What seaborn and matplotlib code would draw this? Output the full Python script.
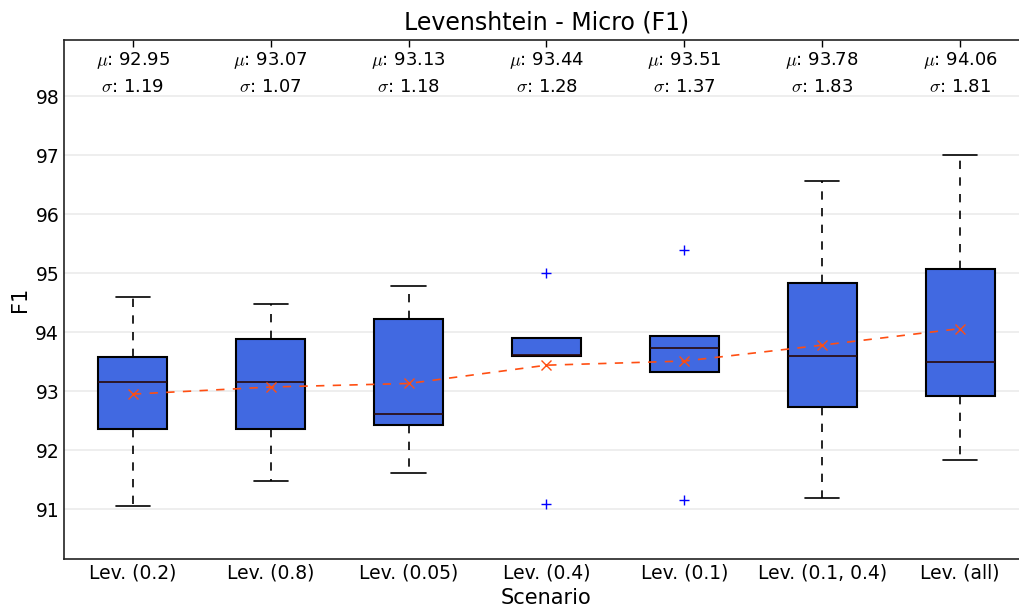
import matplotlib
matplotlib.use("Agg")
import matplotlib.pyplot as plt
import seaborn as sns
import pandas as pd

scenarios = ["Lev. (0.2)", "Lev. (0.8)", "Lev. (0.05)", "Lev. (0.4)",
             "Lev. (0.1)", "Lev. (0.1, 0.4)", "Lev. (all)"]
whisker_low = [91.06, 91.48, 91.62, 93.59, 93.33, 91.19, 91.84]
q1 = [92.36, 92.35, 92.42, 93.59, 93.33, 92.73, 92.91]
median = [93.16, 93.16, 92.62, 93.62, 93.73, 93.60, 93.50]
q3 = [93.58, 93.89, 94.23, 93.90, 93.94, 94.84, 95.07]
whisker_high = [94.60, 94.48, 94.78, 93.90, 93.94, 96.57, 97.01]
outliers = [[], [], [], [95.00, 91.09], [95.39, 91.16], [], []]
means = [92.95, 93.07, 93.13, 93.44, 93.51, 93.78, 94.06]
stds = [1.19, 1.07, 1.18, 1.28, 1.37, 1.83, 1.81]
yticks = [91, 92, 93, 94, 95, 96, 97, 98]

sns.set_style("white")
plt.rcParams["font.family"] = ["DejaVu Sans"]
plt.rcParams["mathtext.fontset"] = "cm"
plt.rcParams["text.color"] = "black"
plt.rcParams["axes.labelcolor"] = "black"

fig = plt.figure(figsize=(10.2, 6.08), dpi=100)
ax = fig.add_axes([64 / 1020, 48.7 / 608, 965 / 1020, 519.8 / 608])

positions = list(range(len(scenarios)))
stats = []
for i, name in enumerate(scenarios):
    stats.append(dict(label=name, whislo=whisker_low[i], q1=q1[i], med=median[i],
                      q3=q3[i], whishi=whisker_high[i], fliers=outliers[i]))

ax.bxp(stats, positions=positions, widths=0.5, patch_artist=True, showfliers=True,
       boxprops=dict(facecolor="#4169E1", edgecolor="black", linewidth=1.5),
       medianprops=dict(color="#2a0808", linewidth=1.2),
       whiskerprops=dict(color="black", linestyle=(0, (5, 5)), linewidth=1.2),
       capprops=dict(color="black", linewidth=1.2),
       flierprops=dict(marker="+", markeredgecolor="blue", markersize=7,
                       markeredgewidth=1.0, linestyle="none"))

df = pd.DataFrame({"pos": positions, "mean": means})
sns.lineplot(data=df, x="pos", y="mean", ax=ax, color="#FF4E12", marker="x",
             markersize=7.5, markeredgewidth=1.0, markeredgecolor="#FF4E12",
             linewidth=1.2, dashes=False, zorder=5)
ax.lines[-1].set_linestyle((0, (5, 5)))

for i in positions:
    ax.text(i, 98.60, f"$\\mu$: {means[i]:.2f}", ha="center", va="center", fontsize=13)
    ax.text(i, 98.15, f"$\\sigma$: {stds[i]:.2f}", ha="center", va="center", fontsize=13)

ax.set_xlim(-0.5, 6.5)
ax.set_ylim(90.15, 98.96)
ax.set_yticks(yticks)
ax.set_xticks(positions)
ax.set_xticklabels(scenarios)
ax.yaxis.grid(True, color="#ebebeb", linewidth=1.2)
ax.xaxis.grid(False)
ax.set_axisbelow(True)
ax.tick_params(direction="in", length=5, width=1, labelsize=13.5, top=True, right=False,
               colors="black")
ax.tick_params(axis="x", pad=3)
for s in ax.spines.values():
    s.set_color("#222222")
    s.set_linewidth(1.2)
ax.spines["right"].set_visible(False)
ax.set_xlabel("Scenario", fontsize=15, labelpad=4)
ax.set_ylabel("F1", fontsize=15)
ax.set_title("Levenshtein - Micro (F1)", fontsize=17, pad=7)

fig.savefig("out.png", dpi=100)
